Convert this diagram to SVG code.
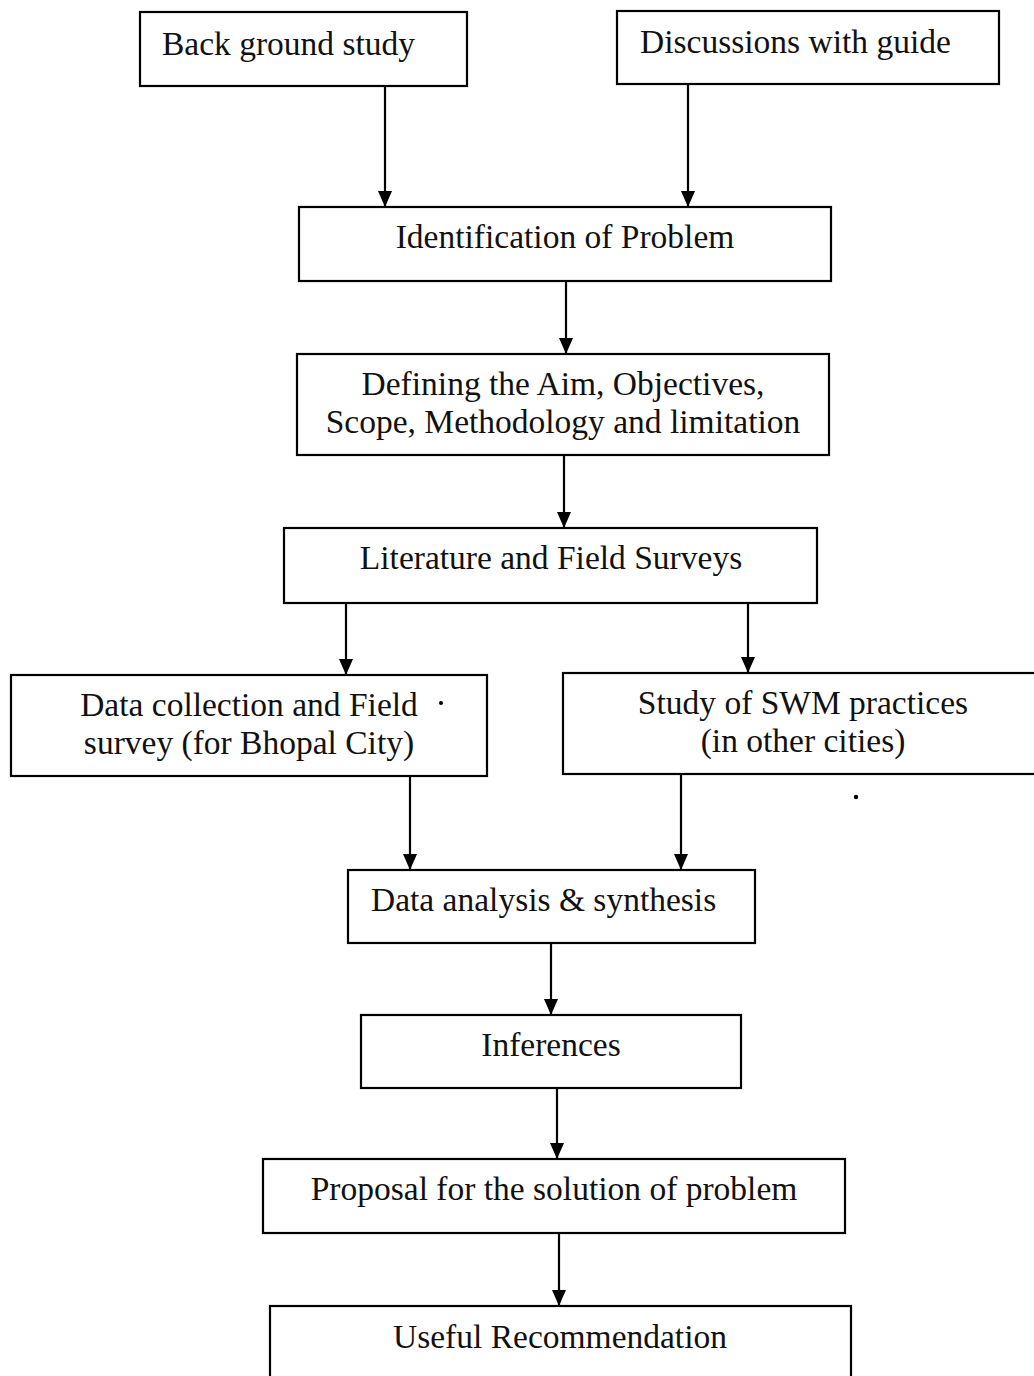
<svg xmlns="http://www.w3.org/2000/svg" width="1034" height="1376" viewBox="0 0 1034 1376">
  <defs>
    <marker id="arrow" viewBox="0 0 16 14" refX="16" refY="7" markerWidth="16" markerHeight="14" markerUnits="userSpaceOnUse" orient="auto">
      <path d="M0,0 L16,7 L0,14 Z" fill="#000"/>
    </marker>
  </defs>
  <style>
    .box { fill: #fff; stroke: #000; stroke-width: 2.2; }
    .lbl { font-family: "Liberation Serif", "Times New Roman", serif; font-size: 33.5px; fill: #111; }
    .mid { text-anchor: middle; }
    .link { stroke: #000; stroke-width: 2.2; fill: none; marker-end: url(#arrow); }
  </style>
  <rect width="1034" height="1376" fill="#fff"/>

  <!-- connectors -->
  <g id="connectors">
    <line class="link" x1="385" y1="86" x2="385" y2="207"/>
    <line class="link" x1="688" y1="84" x2="688" y2="207"/>
    <line class="link" x1="566" y1="281" x2="566" y2="354"/>
    <line class="link" x1="564" y1="455" x2="564" y2="528"/>
    <line class="link" x1="346" y1="603" x2="346" y2="675"/>
    <line class="link" x1="748" y1="603" x2="748" y2="673"/>
    <line class="link" x1="410" y1="776" x2="410" y2="870"/>
    <line class="link" x1="681" y1="774" x2="681" y2="870"/>
    <line class="link" x1="551" y1="943" x2="551" y2="1015"/>
    <line class="link" x1="557" y1="1088" x2="557" y2="1159"/>
    <line class="link" x1="559" y1="1233" x2="559" y2="1306"/>
  </g>

  <!-- nodes -->
  <g id="background-study">
    <rect class="box" x="140" y="12" width="327" height="74"/>
    <text class="lbl" x="162" y="55">Back ground study</text>
  </g>
  <g id="discussions">
    <rect class="box" x="617" y="11" width="382" height="73"/>
    <text class="lbl" x="640" y="53">Discussions with guide</text>
  </g>
  <g id="identification">
    <rect class="box" x="299" y="207" width="532" height="74"/>
    <text class="lbl mid" x="565" y="248">Identification of Problem</text>
  </g>
  <g id="defining">
    <rect class="box" x="297" y="354" width="532" height="101"/>
    <text class="lbl mid" x="563" y="395">Defining the Aim, Objectives,</text>
    <text class="lbl mid" x="563" y="433">Scope, Methodology and limitation</text>
  </g>
  <g id="literature">
    <rect class="box" x="284" y="528" width="533" height="75"/>
    <text class="lbl mid" x="551" y="569">Literature and Field Surveys</text>
  </g>
  <g id="data-collection">
    <rect class="box" x="11" y="675" width="476" height="101"/>
    <text class="lbl mid" x="249" y="716">Data collection and Field</text>
    <text class="lbl mid" x="249" y="754">survey (for Bhopal City)</text>
  </g>
  <g id="swm-study">
    <rect class="box" x="563" y="673" width="480" height="101"/>
    <text class="lbl mid" x="803" y="714">Study of SWM practices</text>
    <text class="lbl mid" x="803" y="752">(in other cities)</text>
  </g>
  <g id="analysis">
    <rect class="box" x="348" y="870" width="407" height="73"/>
    <text class="lbl" x="371" y="911">Data analysis &amp; synthesis</text>
  </g>
  <g id="inferences">
    <rect class="box" x="361" y="1015" width="380" height="73"/>
    <text class="lbl mid" x="551" y="1056">Inferences</text>
  </g>
  <g id="proposal">
    <rect class="box" x="263" y="1159" width="582" height="74"/>
    <text class="lbl mid" x="554" y="1200">Proposal for the solution of problem</text>
  </g>
  <g id="recommendation">
    <rect class="box" x="270" y="1306" width="581" height="90"/>
    <text class="lbl mid" x="560" y="1348">Useful Recommendation</text>
  </g>

  <!-- specks -->
  <circle cx="441" cy="703" r="2" fill="#000"/>
  <circle cx="856" cy="797" r="2.2" fill="#000"/>
</svg>
